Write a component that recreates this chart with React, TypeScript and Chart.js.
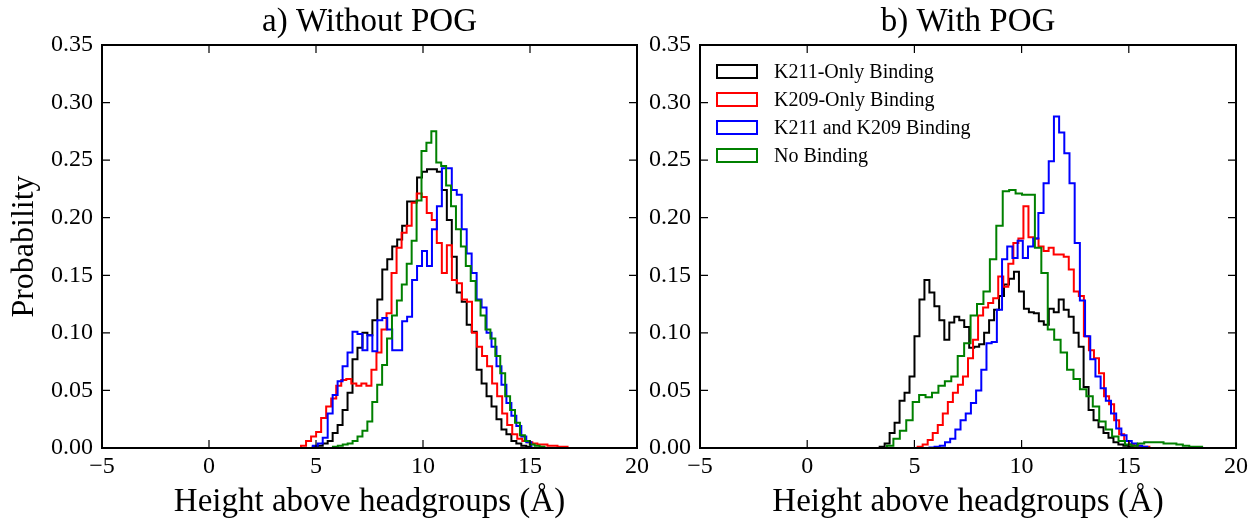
import React, { useEffect, useRef } from 'react';
import { Chart, registerables } from 'chart.js';

Chart.register(...registerables);

const W = 1252;
const H = 527;
const FONT = "'Liberation Serif', 'Times New Roman', serif";

const PANEL_TITLES = ['a) Without POG', 'b) With POG'];
const X_TITLE = 'Height above headgroups (Å)';
const Y_TITLE = 'Probability';

const SERIES_NAMES = ['K211-Only Binding', 'K209-Only Binding', 'K211 and K209 Binding', 'No Binding'];
const SERIES_COLORS = ['#000000', '#ff0000', '#0000ff', '#008000'];

const X_TICKS = [-5, 0, 5, 10, 15, 20];
const X_TICK_LABELS = ['\u22125', '0', '5', '10', '15', '20'];
const Y_TICKS = [0, 0.05, 0.1, 0.15, 0.2, 0.25, 0.3, 0.35];
const Y_TICK_LABELS = ['0.00', '0.05', '0.10', '0.15', '0.20', '0.25', '0.30', '0.35'];

// ---- Panel a) Without POG : first bin edge, bin width, bin probabilities ----
const A_BIN_START = [4.85, 4.3, 4.85, 5.79];
const A_BIN_WIDTH = [0.232, 0.235, 0.232, 0.23];
const A_K211_ONLY = [0.001, 0.002, 0.004, 0.006, 0.013, 0.02, 0.033, 0.048, 0.077, 0.087, 0.1, 0.098, 0.111, 0.129, 0.155, 0.164, 0.175, 0.181, 0.193, 0.214, 0.214, 0.235, 0.24, 0.242, 0.242, 0.24, 0.224, 0.198, 0.166, 0.135, 0.127, 0.107, 0.101, 0.068, 0.056, 0.045, 0.036, 0.025, 0.016, 0.012, 0.006, 0.004, 0.002, 0.001];
const A_K209_ONLY = [0.002, 0.006, 0.01, 0.014, 0.026, 0.036, 0.043, 0.054, 0.059, 0.06, 0.056, 0.054, 0.056, 0.054, 0.068, 0.083, 0.103, 0.117, 0.152, 0.174, 0.187, 0.193, 0.213, 0.221, 0.218, 0.204, 0.198, 0.178, 0.152, 0.176, 0.146, 0.143, 0.129, 0.127, 0.1, 0.088, 0.08, 0.071, 0.056, 0.045, 0.03, 0.02, 0.012, 0.008, 0.006, 0.005, 0.004, 0.003, 0.003, 0.002, 0.002, 0.001, 0.001];
const A_BOTH = [0.002, 0.004, 0.009, 0.03, 0.046, 0.058, 0.071, 0.083, 0.101, 0.099, 0.085, 0.098, 0.084, 0.111, 0.113, 0.103, 0.085, 0.085, 0.11, 0.114, 0.146, 0.158, 0.171, 0.158, 0.19, 0.21, 0.243, 0.243, 0.224, 0.22, 0.19, 0.169, 0.152, 0.129, 0.122, 0.1, 0.088, 0.071, 0.055, 0.039, 0.028, 0.019, 0.01, 0.005];
const A_NONE = [0.001, 0.002, 0.003, 0.004, 0.006, 0.01, 0.015, 0.023, 0.04, 0.055, 0.072, 0.095, 0.115, 0.128, 0.142, 0.16, 0.18, 0.215, 0.258, 0.265, 0.275, 0.248, 0.245, 0.228, 0.21, 0.19, 0.175, 0.158, 0.145, 0.128, 0.115, 0.103, 0.095, 0.08, 0.065, 0.045, 0.033, 0.022, 0.011, 0.006, 0.003, 0.002, 0.001];

// ---- Panel b) With POG ----
const B_BIN_START = [3.38, 5.15, 5.7, 3.72];
const B_BIN_WIDTH = [0.232, 0.235, 0.242, 0.3];
const B_K211_ONLY = [0.001, 0.004, 0.013, 0.022, 0.041, 0.048, 0.062, 0.097, 0.129, 0.146, 0.135, 0.123, 0.111, 0.094, 0.109, 0.114, 0.111, 0.105, 0.087, 0.088, 0.09, 0.1, 0.111, 0.12, 0.132, 0.142, 0.147, 0.153, 0.136, 0.121, 0.118, 0.117, 0.11, 0.107, 0.121, 0.118, 0.129, 0.12, 0.114, 0.1, 0.088, 0.053, 0.033, 0.024, 0.018, 0.013, 0.009, 0.005, 0.003, 0.002, 0.001];
const B_K209_ONLY = [0.001, 0.003, 0.007, 0.013, 0.02, 0.03, 0.04, 0.048, 0.055, 0.062, 0.078, 0.094, 0.115, 0.122, 0.126, 0.13, 0.149, 0.14, 0.16, 0.178, 0.182, 0.21, 0.183, 0.182, 0.175, 0.171, 0.174, 0.168, 0.168, 0.166, 0.155, 0.136, 0.132, 0.097, 0.085, 0.078, 0.065, 0.045, 0.038, 0.024, 0.012, 0.006, 0.003, 0.002, 0.001, 0.001];
const B_BOTH = [0.0005, 0.001, 0.002, 0.005, 0.008, 0.016, 0.024, 0.03, 0.039, 0.05, 0.068, 0.091, 0.092, 0.12, 0.164, 0.175, 0.165, 0.18, 0.165, 0.175, 0.182, 0.204, 0.23, 0.249, 0.288, 0.274, 0.256, 0.23, 0.178, 0.128, 0.097, 0.077, 0.062, 0.052, 0.041, 0.03, 0.017, 0.011, 0.006, 0.004, 0.002, 0.001];
const B_NONE = [0.002, 0.008, 0.015, 0.024, 0.04, 0.046, 0.044, 0.048, 0.054, 0.058, 0.062, 0.08, 0.091, 0.115, 0.125, 0.136, 0.164, 0.193, 0.223, 0.224, 0.221, 0.22, 0.22, 0.174, 0.152, 0.103, 0.094, 0.083, 0.068, 0.06, 0.051, 0.045, 0.036, 0.023, 0.016, 0.01, 0.006, 0.003, 0.002, 0.004, 0.005, 0.005, 0.005, 0.004, 0.004, 0.003, 0.002, 0.001, 0.001];

// step-histogram outline (matplotlib histtype='step') from bin data
function stepOutline(start: number, width: number, values: number[]) {
  const pts: { x: number; y: number }[] = [{ x: start, y: 0 }];
  values.forEach((v, i) => {
    pts.push({ x: start + i * width, y: v });
    pts.push({ x: start + (i + 1) * width, y: v });
  });
  pts.push({ x: start + values.length * width, y: 0 });
  return pts;
}

const framePlugin = {
  id: 'frame',
  afterDatasetsDraw(chart: any) {
    const { ctx, chartArea: ca, scales } = chart;
    const xs = scales.x;
    const ys = scales.y;
    ctx.save();
    ctx.strokeStyle = '#000';
    ctx.lineWidth = 1.2;
    ctx.beginPath();
    X_TICKS.forEach((v) => {
      const p = xs.getPixelForValue(v);
      ctx.moveTo(p, ca.bottom);
      ctx.lineTo(p, ca.bottom - 8);
      ctx.moveTo(p, ca.top);
      ctx.lineTo(p, ca.top + 8);
    });
    Y_TICKS.forEach((v) => {
      const p = ys.getPixelForValue(v);
      ctx.moveTo(ca.left, p);
      ctx.lineTo(ca.left + 8, p);
      ctx.moveTo(ca.right, p);
      ctx.lineTo(ca.right - 8, p);
    });
    ctx.stroke();
    ctx.lineWidth = 2;
    ctx.strokeRect(ca.left, ca.top, ca.right - ca.left, ca.bottom - ca.top);
    ctx.restore();
  },
};

const legendPlugin = {
  id: 'stepLegend',
  afterDraw(chart: any) {
    const { ctx, chartArea: ca } = chart;
    ctx.save();
    ctx.font = `20px ${FONT}`;
    ctx.textBaseline = 'middle';
    ctx.textAlign = 'left';
    SERIES_NAMES.forEach((name, i) => {
      const cy = ca.top + 26.5 + 28 * i;
      ctx.strokeStyle = SERIES_COLORS[i];
      ctx.lineWidth = 2;
      ctx.strokeRect(ca.left + 17, cy - 6.5, 40, 13);
      ctx.fillStyle = '#000';
      ctx.fillText(name, ca.left + 74, cy + 1);
    });
    ctx.restore();
  },
};

function makeConfig(isA: boolean): any {
  const starts = isA ? A_BIN_START : B_BIN_START;
  const widths = isA ? A_BIN_WIDTH : B_BIN_WIDTH;
  const series = isA ? [A_K211_ONLY, A_K209_ONLY, A_BOTH, A_NONE] : [B_K211_ONLY, B_K209_ONLY, B_BOTH, B_NONE];
  const tickFont = { family: FONT, size: 24, weight: 'normal' as const };
  const titleFont = { family: FONT, size: 33, weight: 'normal' as const };
  const yTitleFont = { family: FONT, size: 32, weight: 'normal' as const };
  return {
    type: 'line',
    data: {
      datasets: series.map((vals, i) => ({
        label: SERIES_NAMES[i],
        data: stepOutline(starts[i], widths[i], vals),
        borderColor: SERIES_COLORS[i],
        backgroundColor: SERIES_COLORS[i],
        borderWidth: 2,
        pointRadius: 0,
        pointHoverRadius: 0,
        fill: false,
        tension: 0,
        order: 4 - i,
      })),
    },
    options: {
      responsive: false,
      animation: false,
      devicePixelRatio: 1,
      events: [],
      layout: {
        padding: isA
          ? { left: 0, right: W - 637, top: 0, bottom: 0 }
          : { left: 640, right: W - 1236, top: 0, bottom: 0 },
      },
      plugins: {
        legend: { display: false },
        tooltip: { enabled: false },
        title: {
          display: true,
          text: isA ? PANEL_TITLES[0] : PANEL_TITLES[1],
          fullSize: false,
          color: '#000',
          font: titleFont,
          padding: { top: 2.2, bottom: 3.2 },
        },
      },
      scales: {
        x: {
          type: 'linear',
          min: -5,
          max: 20,
          afterBuildTicks: (s: any) => {
            s.ticks = X_TICKS.map((v) => ({ value: v }));
          },
          afterFit: (s: any) => {
            s.height = H - 448;
          },
          grid: { display: false, drawTicks: false },
          border: { display: false },
          ticks: {
            color: '#000',
            font: tickFont,
            padding: 4,
            maxRotation: 0,
            autoSkip: false,
            callback: (_v: any, i: number) => X_TICK_LABELS[i],
          },
          title: {
            display: true,
            text: X_TITLE,
            color: '#000',
            font: titleFont,
            padding: { top: 0, bottom: 5.2 },
          },
        },
        y: {
          type: 'linear',
          min: 0,
          max: 0.35,
          afterBuildTicks: (s: any) => {
            s.ticks = Y_TICKS.map((v) => ({ value: v }));
          },
          afterFit: (s: any) => {
            s.width = isA ? 102 : 60;
          },
          grid: { display: false, drawTicks: false },
          border: { display: false },
          ticks: {
            color: '#000',
            font: tickFont,
            padding: 9,
            autoSkip: false,
            callback: (_v: any, i: number) => Y_TICK_LABELS[i],
          },
          title: {
            display: isA,
            text: Y_TITLE,
            color: '#000',
            font: yTitleFont,
            padding: { top: 5, bottom: 0 },
          },
        },
      },
    },
    plugins: isA ? [framePlugin] : [framePlugin, legendPlugin],
  };
}

export default function App() {
  const refA = useRef<HTMLCanvasElement>(null);
  const refB = useRef<HTMLCanvasElement>(null);
  useEffect(() => {
    const a = new Chart(refA.current as HTMLCanvasElement, makeConfig(true));
    const b = new Chart(refB.current as HTMLCanvasElement, makeConfig(false));
    return () => {
      a.destroy();
      b.destroy();
    };
  }, []);
  return (
    <div style={{ position: 'absolute', left: 0, top: 0, width: W, height: H, background: '#fff' }}>
      <canvas ref={refA} width={W} height={H} style={{ position: 'absolute', left: 0, top: 0 }} />
      <canvas ref={refB} width={W} height={H} style={{ position: 'absolute', left: 0, top: 0 }} />
    </div>
  );
}
